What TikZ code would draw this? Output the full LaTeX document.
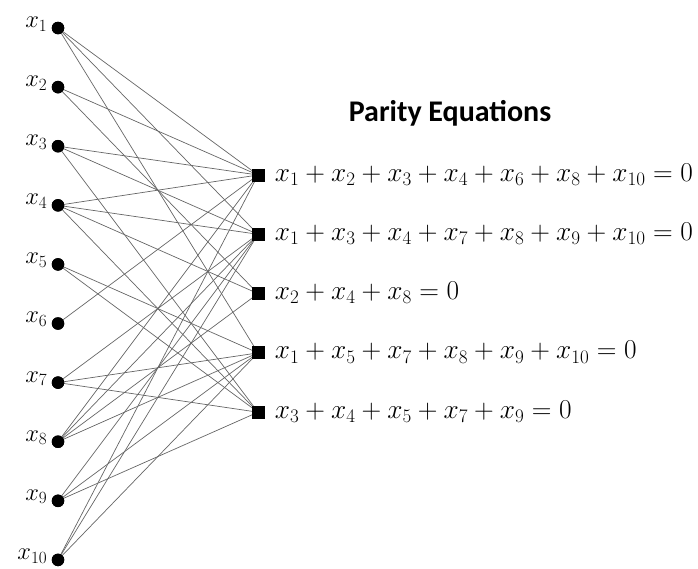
\RequirePackage{fix-cm}
\documentclass[tikz,border=0pt]{standalone}
\usepackage{fontspec}
\newfontfamily\titlefont{Carlito}
\begin{document}
\begin{tikzpicture}[x=1pt,y=-1pt,
  var/.style={circle,fill=black,inner sep=0pt,minimum size=12.5pt},
  chk/.style={rectangle,fill=black,inner sep=0pt,minimum size=13pt},
  edge/.style={draw=black!60,line width=0.7pt},
  mathlab/.style={font=\fontsize{27.3}{31}\selectfont,inner sep=0pt},
  varlab/.style={font=\fontsize{24.5}{28}\selectfont,inner sep=0pt}]
\useasboundingbox (0,0) rectangle (698,568);
% variable nodes
\foreach \i in {1,...,10}{
  \node[var] (v\i) at (58,{28+59.1*(\i-1)}) {};
}
% check nodes
\foreach \j in {1,...,5}{
  \node[chk] (c\j) at (258,{175+59.3*(\j-1)}) {};
}
% edges
\foreach \v in {1,2,3,4,6,8,10}{\draw[edge] (v\v.center) -- (c1.center);}
\foreach \v in {1,3,4,7,8,9,10}{\draw[edge] (v\v.center) -- (c2.center);}
\foreach \v in {2,4,8}{\draw[edge] (v\v.center) -- (c3.center);}
\foreach \v in {1,5,7,8,9,10}{\draw[edge] (v\v.center) -- (c4.center);}
\foreach \v in {3,4,5,7,9}{\draw[edge] (v\v.center) -- (c5.center);}
% redraw nodes on top of edges
\foreach \i in {1,...,10}{
  \node[var] at (v\i.center) {};
  \node[varlab,anchor=east] (lv\i) at ([xshift=-4pt,yshift=4pt]v\i.west) {$x_{\i}$};
}
\foreach \j in {1,...,5}{\node[chk] at (c\j.center) {};}
% equations
\node[mathlab,anchor=base west] (e1) at ([xshift=10pt,yshift=-6pt]c1.east) {$x_1+x_2+x_3+x_4+x_6+x_8+x_{10}=0$};
\node[mathlab,anchor=base west] (e2) at ([xshift=10pt,yshift=-6pt]c2.east) {$x_1+x_3+x_4+x_7+x_8+x_9+x_{10}=0$};
\node[mathlab,anchor=base west] (e3) at ([xshift=10pt,yshift=-6pt]c3.east) {$x_2+x_4+x_8=0$};
\node[mathlab,anchor=base west] (e4) at ([xshift=10pt,yshift=-6pt]c4.east) {$x_1+x_5+x_7+x_8+x_9+x_{10}=0$};
\node[mathlab,anchor=base west] (e5) at ([xshift=10pt,yshift=-6pt]c5.east) {$x_3+x_4+x_5+x_7+x_9=0$};
% title
\node[font=\titlefont\bfseries\fontsize{30}{34}\selectfont,inner sep=0pt] (title) at (450,113) {Parity Equations};
\end{tikzpicture}
\end{document}
